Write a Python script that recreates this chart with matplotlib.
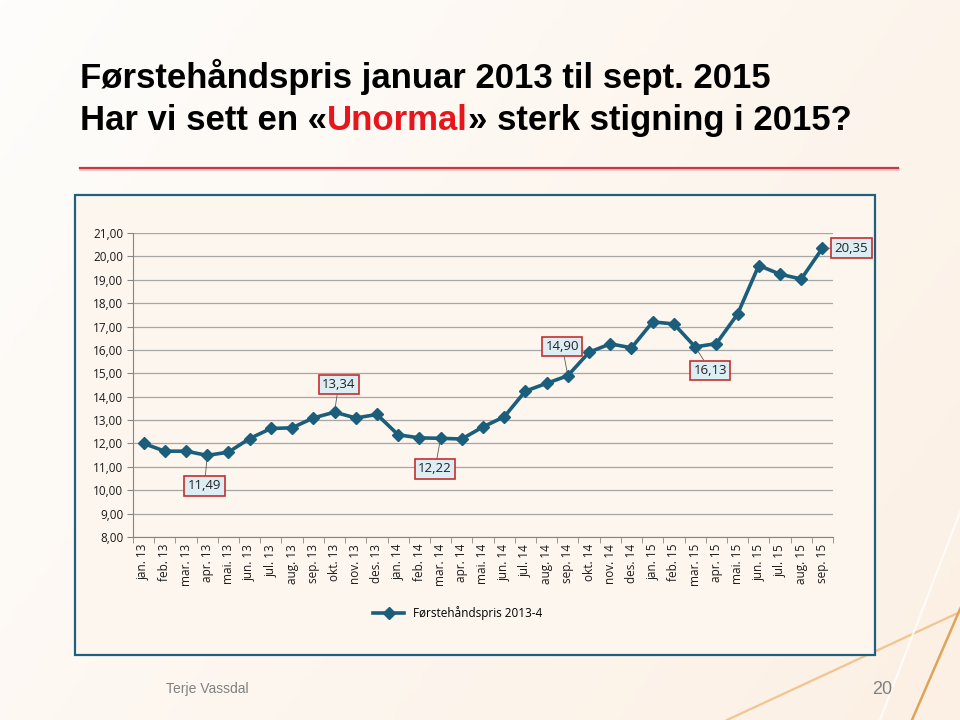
import numpy as np
import matplotlib
matplotlib.use('Agg')
from matplotlib import pyplot as plt
from matplotlib.patches import Rectangle

# data
months = ['jan. 13', 'feb. 13', 'mar. 13', 'apr. 13', 'mai. 13', 'jun. 13', 'jul. 13', 'aug. 13',
          'sep. 13', 'okt. 13', 'nov. 13', 'des. 13', 'jan. 14', 'feb. 14', 'mar. 14', 'apr. 14',
          'mai. 14', 'jun. 14', 'jul. 14', 'aug. 14', 'sep. 14', 'okt. 14', 'nov. 14', 'des. 14',
          'jan. 15', 'feb. 15', 'mar. 15', 'apr. 15', 'mai. 15', 'jun. 15', 'jul. 15', 'aug. 15',
          'sep. 15']
pris = [12.00, 11.67, 11.67, 11.49, 11.63, 12.21, 12.64, 12.67,
        13.09, 13.34, 13.09, 13.24, 12.37, 12.24, 12.22, 12.19,
        12.71, 13.14, 14.24, 14.57, 14.90, 15.90, 16.26, 16.09,
        17.20, 17.11, 16.13, 16.27, 17.53, 19.61, 19.24, 19.03,
        20.35]
series_name = 'Førstehåndspris 2013-4'
yticks = list(range(8, 22))

# labelled points (index into months) and label offsets in points
label_idx = [3, 9, 14, 20, 26, 32]
label_off = [(-2, -22), (3, 20), (-4, -22), (-4, 21), (11, -17), (21, 0)]

W, H = 960, 720
fig = plt.figure(figsize=(9.6, 7.2), dpi=100)

# slide background
bg = fig.add_axes([0, 0, 1, 1])
bg.set_xlim(0, W)
bg.set_ylim(H, 0)
bg.axis('off')
xx, yy = np.meshgrid(np.linspace(0, 1, 200), np.linspace(0, 1, 150))
t = np.clip(0.65 * xx + 0.35 * yy, 0, 1)
c0 = np.array([254, 253, 251]) / 255
c1 = np.array([252, 240, 228]) / 255
img = c0 + (c1 - c0) * t[..., None]
bg.imshow(img, extent=[0, W, H, 0], aspect='auto', zorder=0)

# decorative lines bottom right
bg.plot([727, 960], [720, 612], color='#f2c48f', lw=1.6, zorder=1)
bg.plot([912, 990], [720, 540], color='#e0a35a', lw=1.8, zorder=1)
bg.plot([880, 980], [720, 460], color='white', lw=1.5, alpha=0.8, zorder=1)

# title
fs_title = 25
bg.text(80, 88, 'Førstehåndspris januar 2013 til sept. 2015', fontsize=fs_title,
        fontweight='bold', family='Liberation Sans', color='black', zorder=3)
parts = [('Har vi sett en «', 'black'), ('Unormal', '#e8161c'), ('» sterk stigning i 2015?', 'black')]
fig.canvas.draw()
renderer = fig.canvas.get_renderer()
x = 80
for txt, col in parts:
    tt = bg.text(x, 130, txt, fontsize=fs_title, fontweight='bold', family='Liberation Sans',
                 color=col, zorder=3)
    bb = tt.get_window_extent(renderer=renderer)
    x = x + bb.width
bg.plot([80, 898], [169, 169], color='#f4c6c6', lw=2, zorder=2)
bg.plot([80, 898], [167.5, 167.5], color='#c63a48', lw=1.6, zorder=2)

# chart frame
bg.add_patch(Rectangle((75, 195), 800, 460, facecolor='#fdf6ee', edgecolor='#1f5f7f',
                       lw=1.6, zorder=2))

# footer
bg.text(166, 693, 'Terje Vassdal', fontsize=10, color='#808080', family='Liberation Sans', zorder=3)
bg.text(872, 694, '20', fontsize=13, color='#808080', family='Liberation Sans', zorder=3)

# chart axes
ax = fig.add_axes([133 / W, 1 - 537 / H, 700 / W, 304 / H])
ax.set_facecolor('none')
xi = np.arange(len(months))
ax.plot(xi, pris, color='#1b5e7b', lw=2.6, marker='D', markersize=6.5, label=series_name,
        zorder=3)
ax.set_xlim(-0.5, len(months) - 0.5)
ax.set_ylim(8, 21)
ax.set_yticks(yticks)
ax.set_yticklabels([f'{v:.2f}'.replace('.', ',') for v in yticks], fontsize=8.5,
                   family='Open Sans', color='#1a1a1a')
ax.set_xticks(xi)
ax.set_xticklabels(months, rotation=90, fontsize=8.5, family='Open Sans', color='#1a1a1a')
ax.set_xticks(np.arange(-0.5, len(months)), minor=True)
ax.tick_params(axis='x', which='major', length=0, pad=5)
ax.tick_params(axis='x', which='minor', length=4, color='#868686')
ax.tick_params(axis='y', length=4, color='#868686', pad=3)
ax.grid(axis='y', color='#a6a6a6', lw=0.9)
ax.set_axisbelow(True)
for s in ['top', 'right']:
    ax.spines[s].set_visible(False)
for s in ['left', 'bottom']:
    ax.spines[s].set_color('#868686')

for i, off in zip(label_idx, label_off):
    ax.annotate(f'{pris[i]:.2f}'.replace('.', ','), xy=(i, pris[i]), xytext=off,
                textcoords='offset points', ha='center', va='center', fontsize=9.5,
                family='Open Sans', color='#222222', annotation_clip=False,
                bbox=dict(boxstyle='square,pad=0.25', fc='#dcedf3', ec='#c3312f', lw=1.2),
                arrowprops=dict(arrowstyle='-', color='#595959', lw=0.6, shrinkA=0, shrinkB=3),
                zorder=4)

leg = ax.legend(loc='center', bbox_to_anchor=(458 / W, 1 - 613 / H),
                bbox_transform=fig.transFigure, frameon=False, handlelength=2.6,
                prop={'family': 'Open Sans', 'size': 8.5})

fig.savefig('out.png', dpi=100)
